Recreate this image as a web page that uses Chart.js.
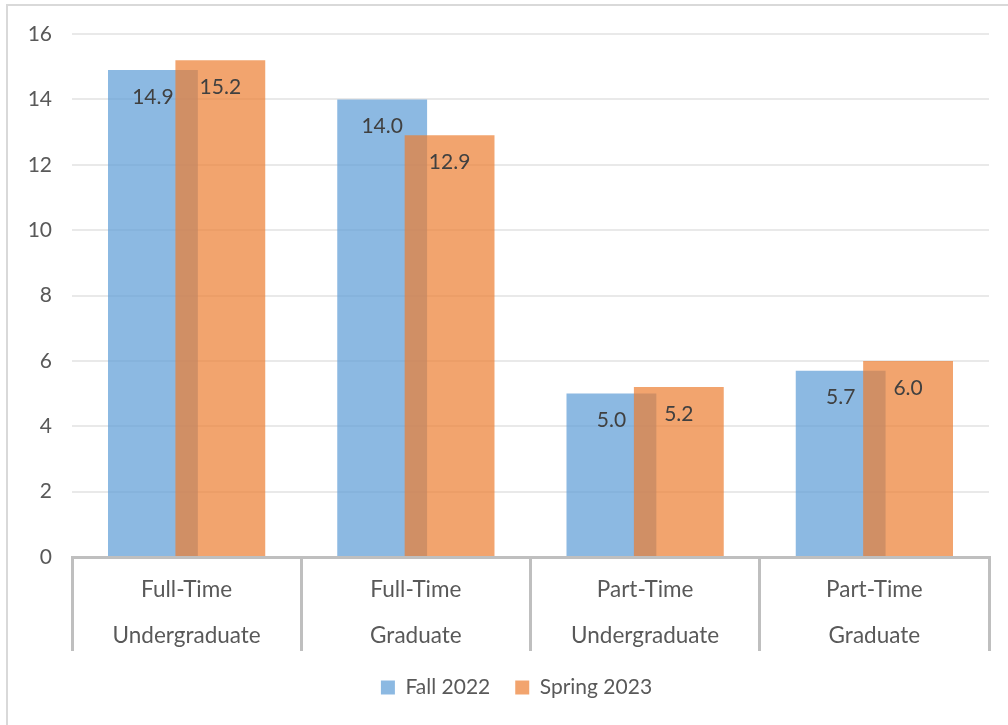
<!DOCTYPE html>
<html>
<head>
<meta charset="utf-8">
<script src="https://cdn.jsdelivr.net/npm/chart.js@4"></script>
<style>
  body { margin: 0; background: #fff; }
  #wrap { width: 1008px; height: 725px; }
</style>
</head>
<body>
<div id="wrap"><canvas id="enrollChart" width="1008" height="725"></canvas></div>
<script>
const categories = [
    ['Full-Time', 'Undergraduate'],
    ['Full-Time', 'Graduate'],
    ['Part-Time', 'Undergraduate'],
    ['Part-Time', 'Graduate']
];
const fall2022 = [14.9, 14.0, 5.0, 5.7];
const spring2023 = [15.2, 12.9, 5.2, 6.0];
const yMin = 0;
const yMax = 16;
const yStep = 2;

const FONT = 'Lato, "Open Sans", sans-serif';

// frame around the whole chart (only top / left edges show)
const frame = {
    id: 'frame',
    afterLayout(chart) {
        // legend sits a bit right of canvas centre in the original
        chart.legend.left += 22;
        chart.legend.right += 22;
    },
    beforeDraw(chart) {
        const ctx = chart.ctx;
        ctx.save();
        ctx.fillStyle = '#fff';
        ctx.fillRect(0, 0, chart.width, chart.height);
        ctx.strokeStyle = '#D9D9D9';
        ctx.lineWidth = 2;
        ctx.strokeRect(7, 5, chart.width + 10, chart.height + 10);
        ctx.restore();
    }
};

// draw Spring after Fall so the orange sits on top, then the value labels
const overlapAndLabels = {
    id: 'overlapAndLabels',
    beforeDatasetDraw(chart, args) {
        if (args.index === 1) return false;
    },
    afterDatasetsDraw(chart) {
        const ctx = chart.ctx;
        chart.getDatasetMeta(1).controller.draw();
        ctx.save();
        ctx.font = '21px ' + FONT;
        ctx.fillStyle = '#404040';
        ctx.textAlign = 'center';
        ctx.textBaseline = 'middle';
        chart.data.datasets.forEach((ds, i) => {
            chart.getDatasetMeta(i).data.forEach((bar, j) => {
                ctx.fillText(ds.data[j].toFixed(1), bar.x, bar.y + 27);
            });
        });
        ctx.restore();
    }
};

new Chart(document.getElementById('enrollChart').getContext('2d'), {
    type: 'bar',
    data: {
        labels: categories,
        datasets: [{
            label: 'Fall 2022',
            data: fall2022,
            backgroundColor: 'rgba(91,155,213,0.7)',
            borderWidth: 0
        }, {
            label: 'Spring 2023',
            data: spring2023,
            backgroundColor: 'rgba(237,125,49,0.7)',
            borderWidth: 0
        }]
    },
    options: {
        responsive: false,
        animation: false,
        categoryPercentage: 0.588,
        barPercentage: 1.333,
        layout: { padding: { top: 34, right: 19, bottom: 17, left: 0 } },
        plugins: {
            legend: {
                position: 'bottom',
                labels: {
                    boxWidth: 14,
                    boxHeight: 14,
                    padding: 25,
                    color: '#595959',
                    font: { family: FONT, size: 21 }
                }
            },
            tooltip: { enabled: false }
        },
        scales: {
            x: {
                grid: {
                    offset: true,
                    drawOnChartArea: false,
                    drawTicks: true,
                    tickLength: 94,
                    color: '#BFBFBF',
                    tickColor: '#BFBFBF',
                    lineWidth: 3
                },
                border: { display: true, color: '#BFBFBF', width: 3 },
                ticks: {
                    color: '#595959',
                    padding: -84,
                    maxRotation: 0,
                    font: { family: FONT, size: 22.5, lineHeight: 2.04 }
                },
                afterFit(scale) { scale.height = 95; }
            },
            y: {
                min: yMin,
                max: yMax,
                ticks: {
                    stepSize: yStep,
                    padding: 20,
                    color: '#595959',
                    font: { family: FONT, size: 21 }
                },
                grid: { color: '#E9E9E9', lineWidth: 2, drawTicks: false },
                border: { display: false },
                afterFit(scale) { scale.width = 72; }
            }
        }
    },
    plugins: [frame, overlapAndLabels]
});
</script>
</body>
</html>
